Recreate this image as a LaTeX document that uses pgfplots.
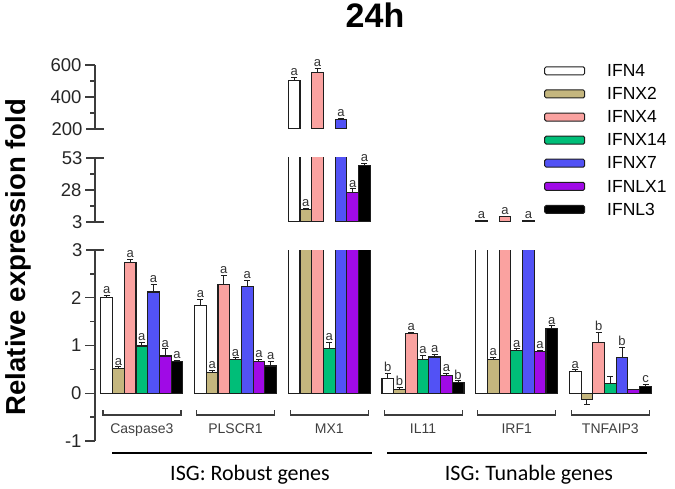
\documentclass[border=0pt]{standalone}
\usepackage{pgfplots}
\pgfplotsset{compat=1.18}
\usepackage{pgfplotstable}
\usepackage{fontspec}
\setmainfont{Liberation Sans}
\newfontfamily\carlito{Carlito}

\definecolor{cTan}{RGB}{196,182,126}
\definecolor{cPink}{RGB}{250,162,160}
\definecolor{cGreen}{RGB}{0,190,120}
\definecolor{cBlue}{RGB}{82,82,245}
\definecolor{cPurple}{RGB}{160,10,230}
\definecolor{barline}{RGB}{30,30,30}
\definecolor{axisgray}{RGB}{60,60,60}

% g: 0 Caspase3, 1 PLSCR1, 2 MX1, 3 IL11, 4 IRF1, 5 TNFAIP3
\pgfplotstableread{
g y ep em lab
0 2.00 0.05 0 a
1 1.83 0.13 0 a
2 502 19 0 a
3 0.31 0.11 0 b
4 4.2 0.3 0 a
5 0.45 0.04 0 a
}\tA
\pgfplotstableread{
g y ep em lab
0 0.52 0.03 0 a
1 0.43 0.04 0 a
2 12.9 0.6 0 a
3 0.08 0.04 0 b
4 0.71 0.04 0 a
5 -0.13 0 0.1 {}
}\tB
\pgfplotstableread{
g y ep em lab
0 2.74 0.06 0 a
1 2.28 0.18 0 a
2 554 25 0 a
3 1.26 0.02 0 a
4 7.0 0.3 0 a
5 1.06 0.22 0 b
}\tC
\pgfplotstableread{
g y ep em lab
0 0.99 0.07 0 a
1 0.71 0.03 0 a
2 0.94 0.12 0 a
3 0.71 0.08 0 a
4 0.89 0.04 0 a
5 0.20 0.16 0 {}
}\tD
\pgfplotstableread{
g y ep em lab
0 2.12 0.16 0 a
1 2.23 0.14 0 a
2 261 6 0 a
3 0.76 0.06 0 a
4 3.9 0.2 0 a
5 0.74 0.22 0 b
}\tE
\pgfplotstableread{
g y ep em lab
0 0.78 0.15 0 a
1 0.66 0.05 0 a
2 25.9 2.9 0 a
3 0.38 0.04 0 a
4 0.88 0.01 0 a
5 0.08 0 0 {}
}\tF
\pgfplotstableread{
g y ep em lab
0 0.67 0.02 0 a
1 0.57 0.09 0 a
2 47.3 1.5 0 a
3 0.22 0.04 0 b
4 1.36 0.05 0 a
5 0.15 0.04 0 c
}\tG

\pgfplotsset{
  mylegend/.style={legend image code/.code={\draw[##1, line width=1pt, rounded corners=1.5pt] (0pt,-4.5pt) rectangle (40pt,3.5pt);}},
  barstyle/.style={ybar, bar width=0.125, bar shift=0pt, draw=barline, line width=1.1pt, mylegend},
  base/.style={scale only axis, width=571.6pt, xmin=-0.5, xmax=5.6, anchor=south west,
    axis y line=left,
    axis line style={-, draw=axisgray, line width=1.3pt},
    tick style={draw=axisgray, line width=1.3pt},
    major tick length=10pt, minor tick length=5pt, tick align=outside,
    yticklabel style={font=\fontsize{18.5}{18.5}\selectfont, text=black!85},
    /pgf/number format/assume math mode=true,
    extra y tick style={tick align=center, major tick length=18pt},
    clip=true},
}

% #1: lowest value drawn in this segment, #2: cap (taller bars are clipped there anyway)
\newcommand{\barsall}[2]{%
  \addplot[barstyle, fill=white, restrict y to domain=#1:1000]   table[x expr=\thisrow{g}-0.375, y expr={min(\thisrow{y},#2)}]{\tA};
  \addplot[barstyle, fill=cTan, restrict y to domain=#1:1000]    table[x expr=\thisrow{g}-0.25,  y expr={min(\thisrow{y},#2)}]{\tB};
  \addplot[barstyle, fill=cPink, restrict y to domain=#1:1000]   table[x expr=\thisrow{g}-0.125, y expr={min(\thisrow{y},#2)}]{\tC};
  \addplot[barstyle, fill=cGreen, restrict y to domain=#1:1000]  table[x expr=\thisrow{g},       y expr={min(\thisrow{y},#2)}]{\tD};
  \addplot[barstyle, fill=cBlue, restrict y to domain=#1:1000]   table[x expr=\thisrow{g}+0.125, y expr={min(\thisrow{y},#2)}]{\tE};
  \addplot[barstyle, fill=cPurple, restrict y to domain=#1:1000] table[x expr=\thisrow{g}+0.25,  y expr={min(\thisrow{y},#2)}]{\tF};
  \addplot[barstyle, fill=black, restrict y to domain=#1:1000]   table[x expr=\thisrow{g}+0.375, y expr={min(\thisrow{y},#2)}]{\tG};
}
\newcommand{\ann}[4]{%
  \addplot[forget plot, draw=none, mark=none, restrict y to domain=#3:#4,
    error bars/.cd, y dir=both, y explicit,
    error bar style={line width=1pt, draw=barline, solid},
    error mark options={rotate=90, mark size=3pt, line width=1pt, draw=barline}]
    table[x expr=\thisrow{g}+#2, y=y, y error plus=ep, y error minus=em]{#1};
  \addplot[forget plot, draw=none, mark=none, restrict y to domain=#3:#4,
    nodes near coords, point meta=explicit symbolic,
    every node near coord/.append style={font=\fontsize{13}{13}\selectfont, text=black!80, anchor=south, inner sep=1.5pt}]
    table[x expr=\thisrow{g}+#2, y expr=\thisrow{y}+\thisrow{ep}, meta=lab]{#1};
}
\newcommand{\annall}[2]{%
  \ann{\tA}{-0.375}{#1}{#2}
  \ann{\tB}{-0.25}{#1}{#2}
  \ann{\tC}{-0.125}{#1}{#2}
  \ann{\tD}{0}{#1}{#2}
  \ann{\tE}{0.125}{#1}{#2}
  \ann{\tF}{0.25}{#1}{#2}
  \ann{\tG}{0.375}{#1}{#2}
}

\begin{document}
\begin{tikzpicture}
\useasboundingbox (0,0) rectangle (675pt,488pt);

% bottom segment
\begin{axis}[base, at={(95pt,47pt)}, height=191pt, ymin=-1, ymax=3,
  ytick={-1,0,1,2}, minor ytick={-0.5,0.5,1.5,2.5}, extra y ticks={3},
  axis x line=bottom, x axis line style={draw=none},
  xtick={0,1,2,3,4,5}, xticklabels={Caspase3,PLSCR1,MX1,IL11,IRF1,TNFAIP3},
  xtick style={draw=none},
  xticklabel style={font=\fontsize{14}{14}\selectfont, text=black!75, anchor=base, yshift=13pt},
  legend style={draw=none, fill=none, at={(axis description cs:0.7855,1.985)}, anchor=north west,
    font=\fontsize{17.5}{17.5}\selectfont, inner sep=0pt, row sep=6.6pt, column sep=20pt,
    nodes={text height=12.5pt, text depth=0pt, inner sep=2pt}},
  legend cell align=left]
  \barsall{-5}{3.5}
  \annall{-1}{3}
  \legend{IFN4,IFNX2,IFNX4,IFNX14,IFNX7,IFNLX1,IFNL3}
\end{axis}

% middle segment
\begin{axis}[base, at={(95pt,266pt)}, height=64pt, ymin=3, ymax=53,
  ytick={28}, minor ytick={15.5,40.5}, extra y ticks={3,53},
  axis x line=none]
  \barsall{3.05}{60}
  \annall{3}{53}
\end{axis}

% top segment
\begin{axis}[base, at={(95pt,359pt)}, height=64pt, ymin=200, ymax=600,
  ytick={400,600}, minor ytick={300,500}, extra y ticks={200},
  axis x line=none]
  \barsall{200.5}{700}
  \annall{200}{600}
\end{axis}

% group brackets
\foreach \c in {142,235.7,329.4,423.1,516.8,610.5}
  \draw[axisgray, line width=1.1pt] (\c pt-39pt,78pt) -- (\c pt-39pt,73pt) -- (\c pt+39pt,73pt) -- (\c pt+39pt,78pt);
\draw[black, line width=1.5pt] (112pt,35pt) -- (372pt,35pt);
\draw[black, line width=1.5pt] (387pt,35pt) -- (647pt,35pt);
\node[font=\carlito\fontsize{22}{22}\selectfont, anchor=base] at (250pt,8pt) {ISG: Robust genes};
\node[font=\carlito\fontsize{22}{22}\selectfont, anchor=base] at (529pt,8pt) {ISG: Tunable genes};

\node[font=\bfseries\fontsize{34}{34}\selectfont, anchor=base] at (375pt,460pt) {24h};
\node[font=\bfseries\fontsize{27.5}{27.5}\selectfont, rotate=90, anchor=base] at (25.5pt,231pt) {Relative expression fold};
\end{tikzpicture}
\end{document}
